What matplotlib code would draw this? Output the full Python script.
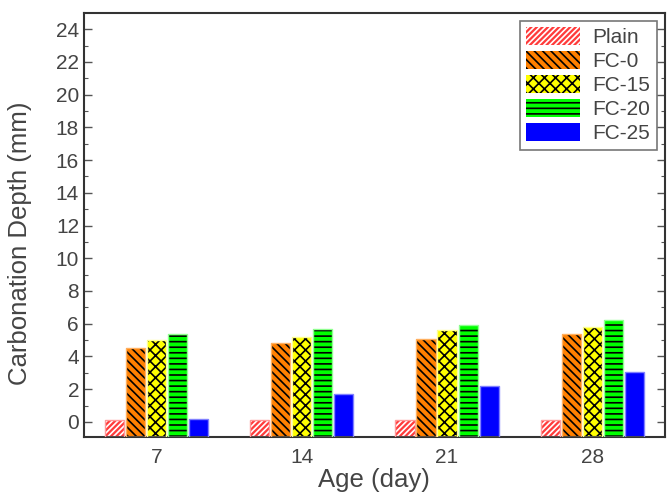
import numpy as np
import matplotlib
matplotlib.use('Agg')
import matplotlib.pyplot as plt
from matplotlib.patches import Patch

# Carbonation depth (mm)
ages = ['7', '14', '21', '28']
plain = [0.1, 0.1, 0.1, 0.1]
fc_0 = [4.5, 4.8, 5.05, 5.35]
fc_15 = [5.0, 5.2, 5.6, 5.8]
fc_20 = [5.4, 5.7, 5.9, 6.2]
fc_25 = [0.15, 1.7, 2.2, 3.05]

series = [
    ('Plain', plain, '#ff3b3b', '//////', 'white', '#ff9a9a'),
    ('FC-0', fc_0, '#ff8000', '\\\\\\\\', 'black', '#ffb060'),
    ('FC-15', fc_15, '#ffff00', 'xxx', 'black', '#ffff90'),
    ('FC-20', fc_20, '#00ff00', '---', 'black', '#90ff90'),
    ('FC-25', fc_25, '#0000ff', '', 'blue', '#8080ff'),
]

plt.rcParams['font.family'] = ['Liberation Sans', 'DejaVu Sans']
plt.rcParams['hatch.linewidth'] = 1.2
text_color = '#444444'

fig = plt.figure(figsize=(6.71, 4.95), dpi=100)
ax = fig.add_axes([0.125, 0.118, 0.866, 0.856])

x = np.arange(len(ages))
ymin = -0.9
width = 0.132
pitch = 0.145
handles = []
for i, (name, vals, color, hatch, hcolor, ecolor) in enumerate(series):
    pos = x + (i - 2) * pitch
    heights = np.array(vals) - ymin
    ax.bar(pos, heights, width, bottom=ymin, color=color, hatch=hatch,
           edgecolor=hcolor, linewidth=0, zorder=2)
    ax.bar(pos, heights, width, bottom=ymin, fill=False,
           edgecolor=ecolor, linewidth=1.0, zorder=3)
    handles.append(Patch(facecolor=color, hatch=hatch, edgecolor=hcolor,
                         linewidth=0, label=name))

ax.set_xlim(-0.5, len(ages) - 0.5)
ax.set_ylim(ymin, 25)
ax.set_xticks(x)
ax.set_xticklabels(ages)
ax.set_xticks(x[:-1] + 0.5, minor=True)
ax.set_yticks(np.arange(0, 25, 2))
ax.set_yticks(np.arange(-0.0, 25, 1), minor=True)
ax.tick_params(axis='both', which='both', direction='in', top=True, right=True,
               labelsize=15, labelcolor=text_color, colors='#555555')
ax.tick_params(axis='both', which='major', length=6, width=1)
ax.tick_params(axis='both', which='minor', length=3, width=0.8)
ax.tick_params(axis='x', which='both', length=0)
ax.tick_params(axis='x', pad=8)
for spine in ax.spines.values():
    spine.set_linewidth(1.5)
    spine.set_color('#333333')

ax.set_ylabel('Carbonation Depth (mm)', fontsize=18.5, color=text_color)
ax.yaxis.set_label_coords(-0.09, 0.457)
ax.set_xlabel('Age (day)', fontsize=18.5, color=text_color, labelpad=1)

leg = ax.legend(handles=handles, loc='upper right', fontsize=15,
                frameon=True, fancybox=False, handlelength=2.6,
                handleheight=0.9, borderpad=0.3, labelspacing=0.2,
                handletextpad=0.6, borderaxespad=0.4)
leg.get_frame().set_edgecolor('#555555')
leg.get_frame().set_linewidth(1.2)
for t in leg.get_texts():
    t.set_color(text_color)

fig.savefig('out.png', dpi=100)
